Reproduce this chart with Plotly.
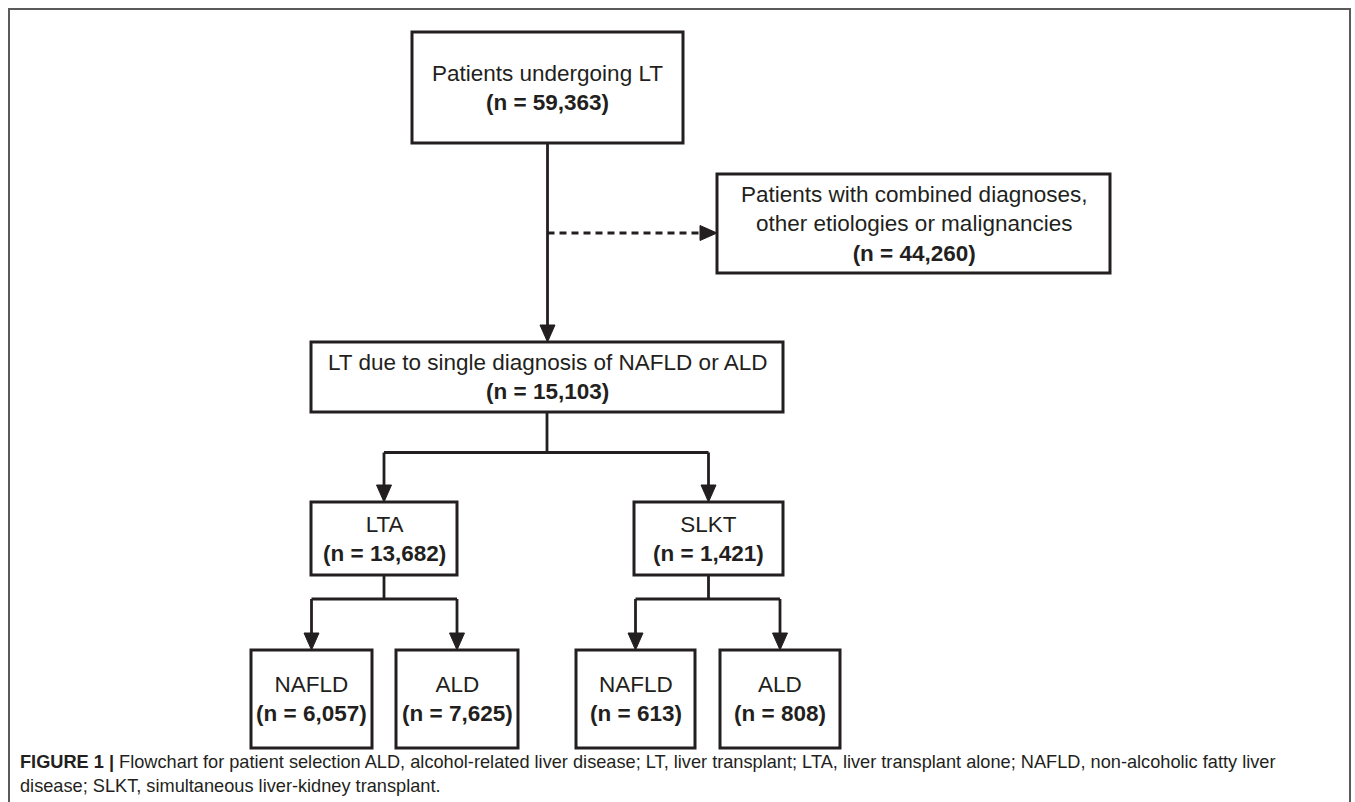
import plotly.graph_objects as go

# ---- data ----
node_ids = ["all", "excluded", "single", "lta", "slkt", "lta_nafld", "lta_ald", "slkt_nafld", "slkt_ald"]
node_labels = [
    "Patients undergoing LT",
    "Patients with combined diagnoses,<br>other etiologies or malignancies",
    "LT due to single diagnosis of NAFLD or ALD",
    "LTA",
    "SLKT",
    "NAFLD",
    "ALD",
    "NAFLD",
    "ALD",
]
node_counts = [59363, 44260, 15103, 13682, 1421, 6057, 7625, 613, 808]
edges_main = [("all", "single")]
edges_excl = [("all", "excluded")]
edges_split = [("single", ["lta", "slkt"]), ("lta", ["lta_nafld", "lta_ald"]), ("slkt", ["slkt_nafld", "slkt_ald"])]
caption_lines = [
    "<b>FIGURE 1 |</b> Flowchart for patient selection ALD, alcohol-related liver disease; LT, liver transplant; LTA, liver transplant alone; NAFLD, non-alcoholic fatty liver",
    "disease; SLKT, simultaneous liver-kidney transplant.",
]

# ---- layout (pixel geometry: x0, x1, y0, y1) ----
W, H = 1355, 802
geom = {
    "all": (412, 683, 32, 143),
    "excluded": (717, 1110, 174, 273),
    "single": (311, 783, 342, 412),
    "lta": (311, 457, 502, 575),
    "slkt": (634, 783, 502, 575),
    "lta_nafld": (251, 372, 650, 748),
    "lta_ald": (396, 518, 650, 748),
    "slkt_nafld": (576, 695, 650, 748),
    "slkt_ald": (720, 840, 650, 748),
}
BOX_COL = "#231f20"
LINE_COL = "#231f20"
BOX_W = 3
LINE_W = 2.8
AH_L, AH_HW = 17, 7.5  # arrowhead length, half width
FONT = "Liberation Sans, Arial, Helvetica, sans-serif"
CAP_FONT = "Liberation Sans Narrow, Arial Narrow, Liberation Sans, sans-serif"

fig = go.Figure()
shapes = []
annotations = []


def cx(n):
    g = geom[n]
    return (g[0] + g[1]) / 2


def cy(n):
    g = geom[n]
    return (g[2] + g[3]) / 2


def line(x0, y0, x1, y1, dash=None):
    d = dict(type="line", x0=x0, y0=y0, x1=x1, y1=y1, xref="x", yref="y",
             line=dict(color=LINE_COL, width=LINE_W))
    if dash:
        d["line"]["dash"] = dash
    shapes.append(d)


def arrow_down(x, y):
    shapes.append(dict(type="path", xref="x", yref="y",
                       path=f"M {x-AH_HW},{y-AH_L} L {x+AH_HW},{y-AH_L} L {x},{y} Z",
                       fillcolor=LINE_COL, line=dict(color=LINE_COL, width=1)))


def arrow_right(x, y):
    shapes.append(dict(type="path", xref="x", yref="y",
                       path=f"M {x-AH_L},{y-AH_HW} L {x-AH_L},{y+AH_HW} L {x},{y} Z",
                       fillcolor=LINE_COL, line=dict(color=LINE_COL, width=1)))


# outer frame
shapes.append(dict(type="path", xref="x", yref="y",
                   path=f"M 9,{H+5} L 9,9 L 1350,9 L 1350,{H+5}",
                   line=dict(color="#5a5a5a", width=2)))

# boxes + labels
for nid, lab, cnt in zip(node_ids, node_labels, node_counts):
    x0, x1, y0, y1 = geom[nid]
    shapes.append(dict(type="rect", xref="x", yref="y", x0=x0, x1=x1, y0=y0, y1=y1,
                       line=dict(color=BOX_COL, width=BOX_W), fillcolor="white", layer="below"))
    annotations.append(dict(x=cx(nid), y=cy(nid), xref="x", yref="y",
                            text=f"{lab}<br><b>(n = {cnt:,})</b>", showarrow=False,
                            font=dict(family=FONT, size=22.5, color="#231f20"),
                            align="center", xanchor="center", yanchor="middle"))

# main vertical arrow
for a, b in edges_main:
    x = cx(a)
    line(x, geom[a][3], x, geom[b][2] - AH_L + 2)
    arrow_down(x, geom[b][2])

# dashed exclusion arrow
for a, b in edges_excl:
    y = cy(b) + 9.5
    line(cx(a), y, geom[b][0] - AH_L + 2, y, dash="7px,5px")
    arrow_right(geom[b][0], y)

# splits
for parent, kids in edges_split:
    px = cx(parent)
    ytop = geom[parent][3]
    ychild = geom[kids[0]][2]
    ymid = ytop + (ychild - ytop) * 0.45 if parent == "single" else ytop + (ychild - ytop) * 0.32
    line(px, ytop, px, ymid)
    line(cx(kids[0]), ymid, cx(kids[-1]), ymid)
    for k in kids:
        line(cx(k), ymid, cx(k), geom[k][2] - AH_L + 2)
        arrow_down(cx(k), geom[k][2])

# caption
for i, t in enumerate(caption_lines):
    annotations.append(dict(x=18, y=762 + 24 * i, xref="x", yref="y", text=t, showarrow=False,
                            font=dict(family=CAP_FONT, size=18.2, color="#231f20"),
                            xanchor="left", yanchor="middle", align="left"))

fig.update_layout(
    width=W, height=H, margin=dict(l=0, r=0, t=0, b=0),
    paper_bgcolor="white", plot_bgcolor="white",
    xaxis=dict(range=[0, W], visible=False, fixedrange=True),
    yaxis=dict(range=[H, 0], visible=False, fixedrange=True),
    shapes=shapes, annotations=annotations, showlegend=False,
)
fig.write_html("out.html", config={"displayModeBar": False},
               post_script="document.body.style.margin='0px';document.body.style.overflow='hidden';")
